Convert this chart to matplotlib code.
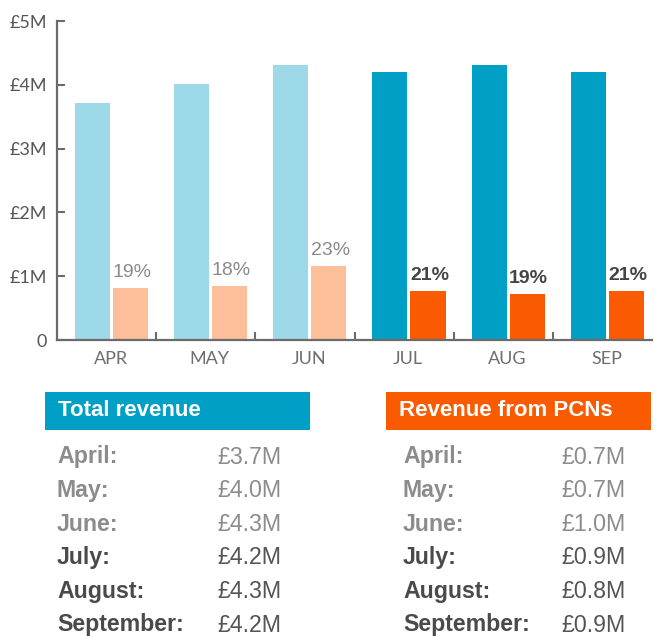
import numpy as np
import matplotlib
matplotlib.use("Agg")
import matplotlib.pyplot as plt
from matplotlib.patches import Rectangle

# chart data (bar heights, in £M)
months = ['APR', 'MAY', 'JUN', 'JUL', 'AUG', 'SEP']
total_bars = [3.71, 4.01, 4.31, 4.20, 4.31, 4.20]
pcn_bars = [0.82, 0.85, 1.16, 0.77, 0.72, 0.77]
pcn_share = ['19%', '18%', '23%', '21%', '19%', '21%']
y_ticks = [0, 1, 2, 3, 4, 5]
y_labels = ['0', '£1M', '£2M', '£3M', '£4M', '£5M']

# table data
month_names = ['April:', 'May:', 'June:', 'July:', 'August:', 'September:']
total_text = ['£3.7M', '£4.0M', '£4.3M', '£4.2M', '£4.3M', '£4.2M']
pcn_text = ['£0.7M', '£0.7M', '£1.0M', '£0.9M', '£0.8M', '£0.9M']

light_blue, dark_blue = '#9dd9e8', '#00a0c6'
light_orange, dark_orange = '#fdbe9a', '#fa5a00'
axis_grey = '#6b6b6b'
faded = 3  # first three months are drawn faded

W, H = 661, 637
fig = plt.figure(figsize=(W / 100, H / 100), dpi=100)

ax = fig.add_axes([57 / W, 1 - 340 / H, 595 / W, 319 / H])
x = np.arange(len(months))
tot_colors = [light_blue if i < faded else dark_blue for i in x]
pcn_colors = [light_orange if i < faded else dark_orange for i in x]
ax.bar(x + 0.357, total_bars, width=0.354, color=tot_colors)
ax.bar(x + 0.741, pcn_bars, width=0.354, color=pcn_colors)

# percentage labels above the PCN bars
for i, (v, s) in enumerate(zip(pcn_bars, pcn_share)):
    light = i < faded
    ax.annotate(s, (i + 0.56, v), xytext=(0, 5), textcoords='offset points',
                ha='left', va='bottom', fontsize=14,
                family='Liberation Sans',
                color='#8a8a8a' if light else '#444444',
                fontweight='normal' if light else 'bold')

ax.set_xlim(0, 6)
ax.set_ylim(0, 5)
for s in ['top', 'right']:
    ax.spines[s].set_visible(False)
for s in ['left', 'bottom']:
    ax.spines[s].set_color(axis_grey)
    ax.spines[s].set_linewidth(1.6)

ax.set_yticks(y_ticks)
ax.set_yticklabels(y_labels, family='Lato', fontsize=13, color='#555555')
ax.tick_params(axis='y', direction='in', length=6, width=1.5, color=axis_grey, pad=7)

ax.set_xticks(x + 0.54)
ax.set_xticklabels(months, family='Lato', fontsize=13, color='#6e6e6e')
ax.set_xticks(np.arange(1, 6), minor=True)
ax.tick_params(axis='x', which='major', length=0, pad=8)
ax.tick_params(axis='x', which='minor', direction='in', length=6, width=1.5, color=axis_grey)

# tables underneath, drawn in pixel coordinates
tab = fig.add_axes([0, 0, 1, 1])
tab.set_xlim(0, W)
tab.set_ylim(H, 0)
tab.axis('off')

tables = [
    ('Total revenue', dark_blue, 45, 57, 281, total_text),
    ('Revenue from PCNs', dark_orange, 386, 403, 626, pcn_text),
]
for title, head_col, box_x, lab_x, val_x, values in tables:
    tab.add_patch(Rectangle((box_x, 392), 265, 38, color=head_col, lw=0))
    tab.text(box_x + 13, 411, title, color='white', fontsize=16,
             fontweight='bold', family='Liberation Sans', va='center', ha='left')
    for i, (name, val) in enumerate(zip(month_names, values)):
        y = 457 + i * 33.6
        light = i < faded
        tab.text(lab_x, y, name, fontsize=16.7, fontweight='bold',
                 family='Liberation Sans', va='center', ha='left',
                 color='#8c8c8c' if light else '#4a4a4a')
        tab.text(val_x, y, val, fontsize=16.7, family='Liberation Sans',
                 va='center', ha='right',
                 color='#8c8c8c' if light else '#555555')

fig.savefig('out.png', dpi=100)
